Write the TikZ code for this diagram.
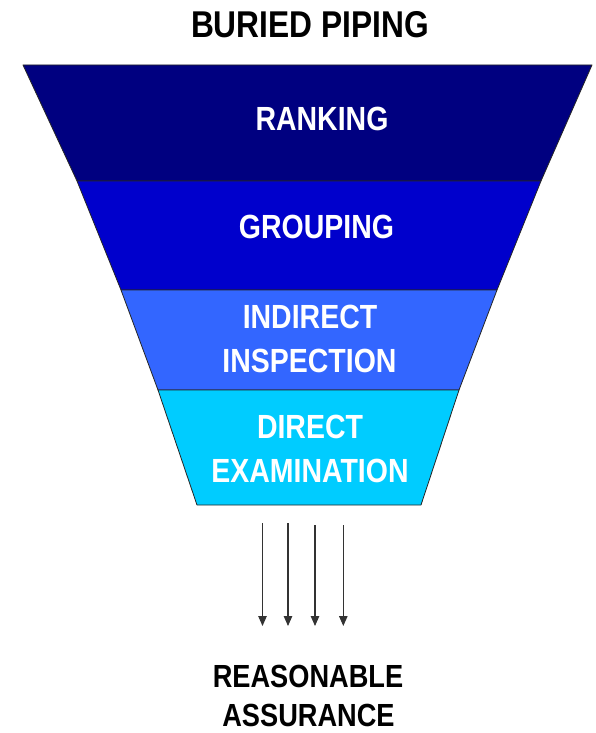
\documentclass[tikz,border=0pt]{standalone}
\usepackage{fontspec}
\setmainfont{Liberation Sans}
\usetikzlibrary{arrows.meta}
\definecolor{bandA}{HTML}{000080}
\definecolor{bandB}{HTML}{0000CC}
\definecolor{bandC}{HTML}{3366FF}
\definecolor{bandD}{HTML}{00CCFF}
\newcommand{\narrowtxt}[1]{\scalebox{0.85}[1]{#1}}
\tikzset{
  band/.style={draw=black!85, line width=0.8pt, line join=round},
  bandtext/.style={anchor=base, inner sep=0pt, text=white, font=\fontsize{33.5}{33.5}\selectfont\bfseries},
  blacktext/.style={anchor=base, inner sep=0pt, text=black, font=\fontsize{32}{32}\selectfont\bfseries},
  titletext/.style={anchor=base, inner sep=0pt, text=black, font=\fontsize{37.3}{37.3}\selectfont\bfseries},
  flowarrow/.style={draw=black!80, line width=1.1pt, -{Triangle[length=10pt,width=8.5pt]}}
}
\begin{document}
\begin{tikzpicture}[x=1pt,y=-1pt]
\useasboundingbox (0,0) rectangle (595,733);
% funnel bands
\path[band, fill=bandA] (23,65) -- (592,65) -- (541,181) -- (77,181) -- cycle;
\path[band, fill=bandB] (77,181) -- (541,181) -- (497,290) -- (121,290) -- cycle;
\path[band, fill=bandC] (121,290) -- (497,290) -- (459,390) -- (158,390) -- cycle;
\path[band, fill=bandD] (158,390) -- (459,390) -- (421,505) -- (197,505) -- cycle;
% texts
\node[titletext] (title) at (310,38) {\narrowtxt{BURIED PIPING}};
\node[bandtext] (ranking) at (322,131) {\narrowtxt{RANKING}};
\node[bandtext] (grouping) at (316.5,238) {\narrowtxt{GROUPING}};
\node[bandtext] (indirectA) at (310,328) {\narrowtxt{INDIRECT}};
\node[bandtext] (indirectB) at (309.5,372) {\narrowtxt{INSPECTION}};
\node[bandtext] (directA) at (310,438) {\narrowtxt{DIRECT}};
\node[bandtext] (directB) at (310,482) {\narrowtxt{EXAMINATION}};
\node[blacktext] (reasonA) at (308,687) {\narrowtxt{REASONABLE}};
\node[blacktext] (reasonB) at (308.5,726.5) {\narrowtxt{ASSURANCE}};
% arrows
\coordinate (s1) at (262.5,523); \coordinate (e1) at (262.5,626);
\coordinate (s2) at (288,523);   \coordinate (e2) at (288,626);
\coordinate (s3) at (315,525);   \coordinate (e3) at (315,626);
\coordinate (s4) at (343.3,525); \coordinate (e4) at (343.3,626);
\draw[flowarrow] (s1) -- (e1);
\draw[flowarrow] (s2) -- (e2);
\draw[flowarrow] (s3) -- (e3);
\draw[flowarrow] (s4) -- (e4);
\end{tikzpicture}
\end{document}
